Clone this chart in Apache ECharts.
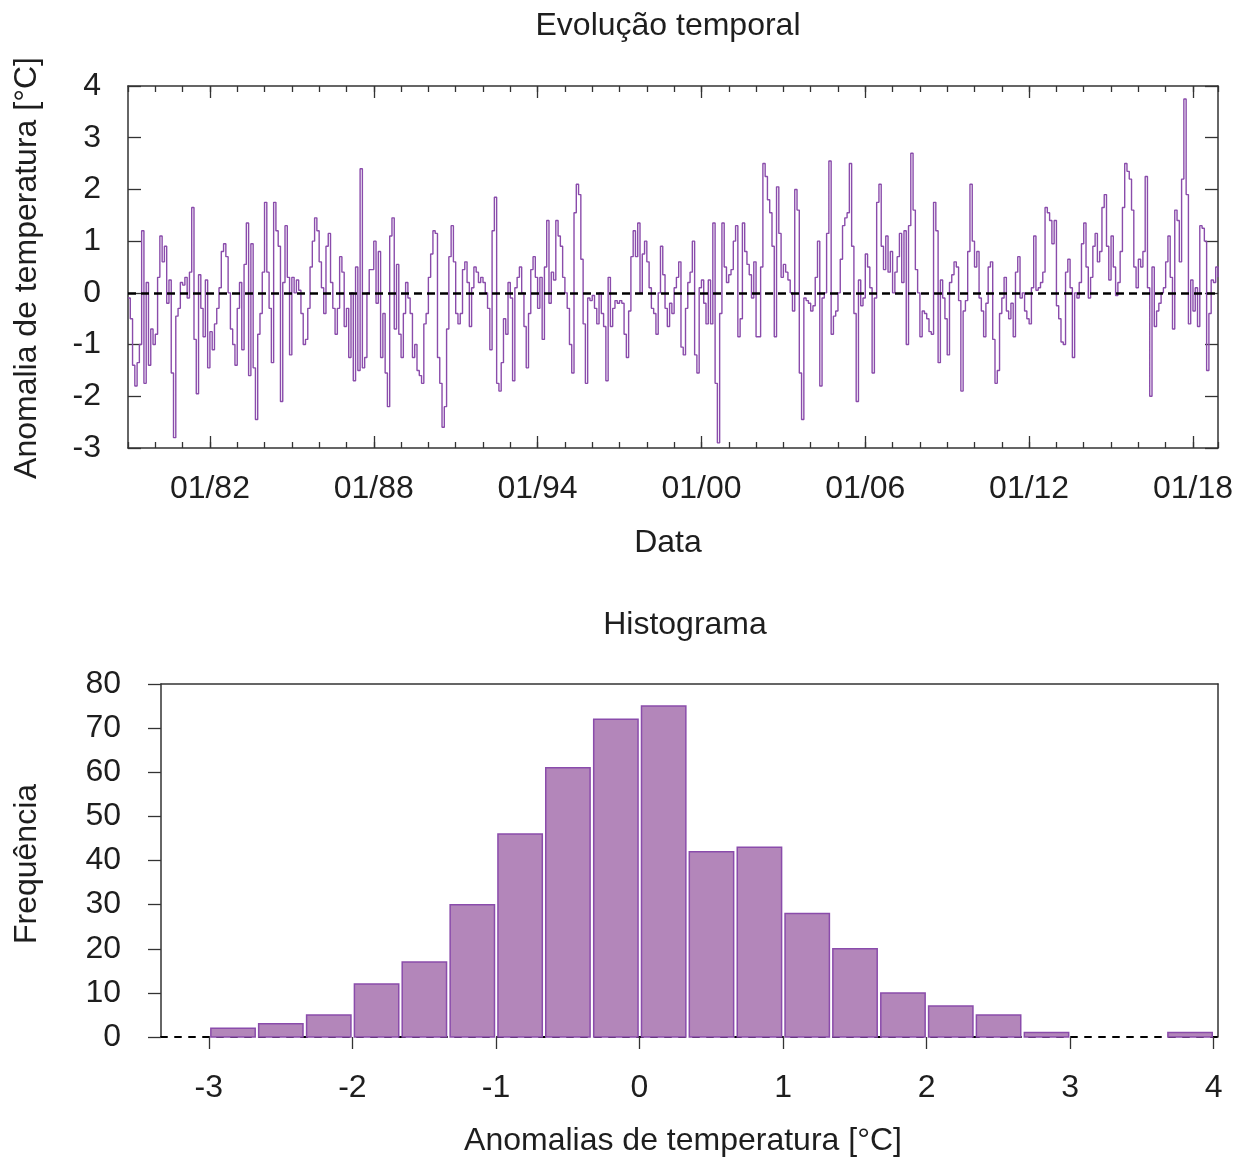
<!DOCTYPE html>
<html><head><meta charset="utf-8">
<script src="https://cdn.jsdelivr.net/npm/echarts@6/dist/echarts.min.js"></script>
<style>html,body{margin:0;padding:0;background:#fff}#chart{width:1250px;height:1164px}</style>
</head><body><div id="chart"></div><script>
// Monthly temperature anomalies, 01/1979 .. 12/2018 (one row per year)
const anomalias = [
 -0.1,-0.5,-1.4,-1.8,-1.35,-1.0,1.2,-1.75,0.2,-1.4,-0.7,-1.0,
 -0.8,0.3,1.1,0.6,0.9,-0.2,0.25,-1.55,-2.8,-0.45,-0.3,0.2,
 0.15,0.3,-0.1,0.4,1.65,-0.9,-1.95,0.35,-0.3,-0.85,0.25,-1.45,
 -0.75,-1.1,-0.6,-0.3,0.1,0.8,0.95,0.7,0.0,-0.7,-1.0,-1.4,
 -0.3,0.2,-1.1,0.55,1.35,-1.6,0.95,-1.45,-2.45,-0.8,-0.4,0.4,
 1.75,0.4,-0.3,-1.35,1.75,1.2,0.9,-2.1,0.2,1.3,0.3,-1.2,
 0.3,0.0,0.25,0.05,-0.4,-1.0,-0.9,-0.3,0.5,1.0,1.45,1.2,
 0.6,0.1,-0.4,0.9,1.15,0.2,-0.3,-0.8,-0.3,0.7,0.4,-0.65,
 -0.3,-1.25,0.0,-1.7,0.5,-1.5,2.4,-1.45,-1.25,0.0,0.45,0.45,
 1.0,-0.2,0.8,-1.25,-0.4,-1.55,-2.2,1.1,1.45,-0.7,0.55,-0.8,
 -1.25,-0.4,0.2,-0.1,-0.4,-1.25,-1.0,-1.5,-1.6,-1.75,-0.6,-0.4,
 0.3,0.75,1.2,1.15,-1.25,-1.75,-2.6,-2.2,-0.7,0.7,1.3,0.6,
 -0.4,-0.6,-0.4,0.45,0.6,0.2,-0.65,0.1,0.5,0.4,0.2,0.3,
 0.2,0.0,-0.3,-1.1,1.2,1.85,-1.75,-1.9,-1.35,-0.5,-0.8,0.2,
 -0.1,-1.7,0.1,0.3,0.5,0.0,-0.65,-1.45,-0.4,0.45,0.7,0.3,
 -0.3,0.3,-0.9,0.5,1.4,-0.2,0.4,0.25,1.4,1.1,0.9,0.3,
 0.0,-0.3,-1.0,-1.55,1.55,2.1,1.9,0.65,-0.6,-1.75,-0.1,-0.15,
 -0.05,-0.3,-0.6,0.0,-0.4,-0.65,-1.7,0.3,-0.65,-0.3,-0.15,-0.2,
 -0.15,-0.2,-0.8,-1.25,-0.35,0.7,1.2,0.7,1.35,0.0,0.75,1.0,
 0.6,0.1,-0.3,-0.4,-0.8,0.0,0.9,0.35,-0.3,-0.65,-0.2,-0.4,
 0.1,0.3,0.6,-1.05,-1.2,-0.3,0.2,0.4,1.0,-1.2,-1.55,0.1,
 0.25,-0.2,-0.6,0.25,-0.6,1.35,-1.75,-2.9,-0.4,1.35,0.5,0.2,
 0.35,0.45,1.0,1.3,-0.85,-0.5,1.35,0.8,0.55,0.35,-0.1,0.6,
 -0.85,-0.85,0.5,2.5,2.25,1.8,1.55,0.9,-0.85,2.05,1.15,0.3,
 0.55,0.4,0.25,0.0,-0.35,2.0,1.6,-1.55,-2.45,-0.1,-0.15,-0.2,
 -0.35,-0.25,0.3,1.0,-1.8,-0.1,0.0,1.15,2.55,-0.8,-0.45,-0.35,
 0.0,0.65,1.3,1.45,1.55,2.5,0.9,-0.4,-2.1,0.25,-0.25,-0.1,
 0.75,0.5,0.1,-1.55,-0.1,1.75,2.1,0.9,0.45,1.1,0.4,0.8,
 0.0,0.4,0.7,1.15,0.2,1.2,-1.0,1.3,2.7,1.6,0.45,0.0,
 -0.85,-0.35,-0.4,-0.5,-0.75,-0.8,1.75,1.2,-1.35,0.25,-0.1,-0.5,
 -1.2,0.2,0.35,0.6,0.5,-0.15,-1.9,-0.35,-0.15,0.8,2.1,1.0,
 0.5,0.8,-0.1,-0.35,-0.85,-0.2,0.5,0.6,-0.9,-1.75,-1.5,-0.4,
 -0.1,0.3,-0.35,-0.5,-0.2,-0.85,0.4,0.7,-0.1,0.0,-0.35,-0.5,
 -0.6,0.1,1.1,0.05,0.1,0.2,0.4,1.65,1.55,1.4,0.95,1.4,
 -0.25,-0.5,-0.95,-1.0,0.4,0.65,0.1,-1.25,0.0,-0.1,0.2,0.95,
 1.35,0.5,-0.1,0.3,0.9,1.15,0.6,0.8,1.65,1.9,0.9,0.25,
 1.1,0.5,-0.05,0.2,0.8,1.65,2.5,2.35,2.2,1.6,0.5,0.1,
 0.65,0.5,0.8,2.25,0.1,-2.0,0.5,-0.65,-0.35,-0.2,0.0,0.1,
 0.6,1.1,0.3,-0.7,1.6,1.4,0.6,2.2,3.75,1.9,-0.6,0.25,
 -0.35,0.1,-0.65,1.3,1.25,1.0,-1.5,-0.4,0.25,0.2,0.5,0.3
];
// Months since 01/1982 of the first data point (01/1979)
const firstMonth = -36;
const dateTickLabels = ['01/82','01/88','01/94','01/00','01/06','01/12','01/18'];
const dateTickMonths = [0, 72, 144, 216, 288, 360, 432];

// Histogram: bin lower edges, bin width, counts
const binStart = [-3.000,-2.667,-2.333,-2.000,-1.667,-1.333,-1.000,-0.667,-0.333,0.000,0.333,0.667,1.000,1.333,1.667,2.000,2.333,2.667,3.000,3.333,3.667];
const binWidth = 1/3;
const binCount = [2,3,5,12,17,30,46,61,72,75,42,43,28,20,10,7,5,1,0,0,1];
const histXTicks = [-3,-2,-1,0,1,2,3,4];

const FONT = "'Liberation Sans', Arial, sans-serif";
const TXT = '#1e1e1e';
const FRAME = '#333333';
const PURPLE = '#8a4cab';
const FILL = '#b386ba';
const FS = 32;

const lastMonth = firstMonth + anomalias.length - 1;
const seriesData = anomalias.map((v, i) => [firstMonth + i, v]);
const histData = binCount.map((c, k) => [binStart[k], binStart[k] + binWidth, c]).filter(d => d[2] > 0);

const frameLine = {show: true, onZero: false, lineStyle: {color: FRAME, width: 1.5}};
const noLine = {show: false, onZero: false};
const tickStyle = {color: FRAME, width: 1.3};
const lbl = {color: TXT, fontSize: FS, fontFamily: FONT};

const chart = echarts.init(document.getElementById('chart'), null, {renderer: 'canvas'});
chart.setOption({
  animation: false,
  backgroundColor: '#ffffff',
  grid: [
    {left: 128, top: 86, width: 1090, height: 362, containLabel: false, outerBoundsMode: 'none'},
    {left: 161, top: 684, width: 1057, height: 353, containLabel: false, outerBoundsMode: 'none'},
    {left: 128, top: 86, width: 1090, height: 362, containLabel: false, outerBoundsMode: 'none'}
  ],
  xAxis: [
    {gridIndex: 0, type: 'value', min: firstMonth, max: lastMonth, interval: 12, position: 'bottom',
     axisLine: frameLine, axisTick: {show: true, inside: true, length: 6, lineStyle: tickStyle},
     axisLabel: {show: false}, splitLine: {show: false}},
    {gridIndex: 0, type: 'value', min: firstMonth, max: lastMonth, interval: 12, position: 'top',
     axisLine: frameLine, axisTick: {show: true, inside: true, length: 6, lineStyle: tickStyle},
     axisLabel: {show: false}, splitLine: {show: false}},
    {gridIndex: 2, type: 'value', min: firstMonth, max: lastMonth, position: 'bottom',
     axisLine: noLine,
     axisTick: {show: true, inside: true, length: 12, customValues: dateTickMonths, lineStyle: tickStyle},
     axisLabel: Object.assign({show: true, margin: 25, customValues: dateTickMonths,
       formatter: v => { const k = dateTickMonths.indexOf(v); return k >= 0 ? dateTickLabels[k] : ''; }}, lbl),
     splitLine: {show: false}},
    {gridIndex: 2, type: 'value', min: firstMonth, max: lastMonth, position: 'top',
     axisLine: noLine,
     axisTick: {show: true, inside: true, length: 12, customValues: dateTickMonths, lineStyle: tickStyle},
     axisLabel: {show: false}, splitLine: {show: false}},
    {gridIndex: 1, type: 'value', min: -10/3, max: 4.03, position: 'bottom',
     axisLine: {show: true, onZero: false, lineStyle: {color: '#000', width: 2, type: [6, 8]}},
     axisTick: {show: true, inside: false, length: 12, customValues: histXTicks, lineStyle: tickStyle},
     axisLabel: Object.assign({show: true, margin: 35, customValues: histXTicks, formatter: v => String(v)}, lbl),
     splitLine: {show: false}},
    {gridIndex: 1, type: 'value', min: -10/3, max: 4.03, position: 'top',
     axisLine: frameLine, axisTick: {show: false}, axisLabel: {show: false}, splitLine: {show: false}}
  ],
  yAxis: [
    {gridIndex: 0, type: 'value', min: -3, max: 4, interval: 1, position: 'left',
     axisLine: frameLine, axisTick: {show: true, inside: true, length: 13, lineStyle: tickStyle},
     axisLabel: Object.assign({show: true, margin: 27}, lbl), splitLine: {show: false}},
    {gridIndex: 0, type: 'value', min: -3, max: 4, interval: 1, position: 'right',
     axisLine: frameLine, axisTick: {show: true, inside: true, length: 13, lineStyle: tickStyle},
     axisLabel: {show: false}, splitLine: {show: false}},
    {gridIndex: 2, type: 'value', min: -3, max: 4, show: false},
    {gridIndex: 1, type: 'value', min: 0, max: 80, interval: 10, position: 'left',
     axisLine: frameLine, axisTick: {show: true, inside: false, length: 13, lineStyle: tickStyle},
     axisLabel: Object.assign({show: true, margin: 40}, lbl), splitLine: {show: false}},
    {gridIndex: 1, type: 'value', min: 0, max: 80, position: 'right',
     axisLine: frameLine, axisTick: {show: false}, axisLabel: {show: false}, splitLine: {show: false}}
  ],
  series: [
    {type: 'line', xAxisIndex: 0, yAxisIndex: 0, data: seriesData, step: 'end',
     showSymbol: false, symbol: 'none', lineStyle: {color: PURPLE, width: 1.4}, z: 2,
     markLine: {silent: true, symbol: ['none', 'none'], label: {show: false},
       lineStyle: {color: '#000', width: 2.5, type: [8, 5]},
       emphasis: {disabled: true}, data: [{yAxis: 0}]}},
    {type: 'custom', xAxisIndex: 4, yAxisIndex: 3, data: histData, z: 3,
     encode: {x: [0, 1], y: 2},
     renderItem: function (params, api) {
       const p0 = api.coord([api.value(0), api.value(2)]);
       const p1 = api.coord([api.value(1), 0]);
       return {type: 'rect',
         shape: {x: p0[0] + 2, y: p0[1], width: p1[0] - p0[0] - 3.5, height: p1[1] - p0[1]},
         style: {fill: FILL, stroke: PURPLE, lineWidth: 1.5}};
     }}
  ],
  graphic: [
    {type: 'text', x: 668, y: 26, style: {text: 'Evolução temporal', fontSize: FS, fontFamily: FONT, fill: TXT, align: 'center', verticalAlign: 'middle'}},
    {type: 'text', x: 668, y: 543, style: {text: 'Data', fontSize: FS, fontFamily: FONT, fill: TXT, align: 'center', verticalAlign: 'middle'}},
    {type: 'text', x: 27, y: 268, rotation: Math.PI / 2, style: {text: 'Anomalia de temperatura [°C]', fontSize: FS, fontFamily: FONT, fill: TXT, align: 'center', verticalAlign: 'middle'}},
    {type: 'text', x: 685, y: 625, style: {text: 'Histograma', fontSize: FS, fontFamily: FONT, fill: TXT, align: 'center', verticalAlign: 'middle'}},
    {type: 'text', x: 683, y: 1141, style: {text: 'Anomalias de temperatura [°C]', fontSize: FS, fontFamily: FONT, fill: TXT, align: 'center', verticalAlign: 'middle'}},
    {type: 'text', x: 27, y: 864, rotation: Math.PI / 2, style: {text: 'Frequência', fontSize: FS, fontFamily: FONT, fill: TXT, align: 'center', verticalAlign: 'middle'}}
  ]
});
</script></body></html>
